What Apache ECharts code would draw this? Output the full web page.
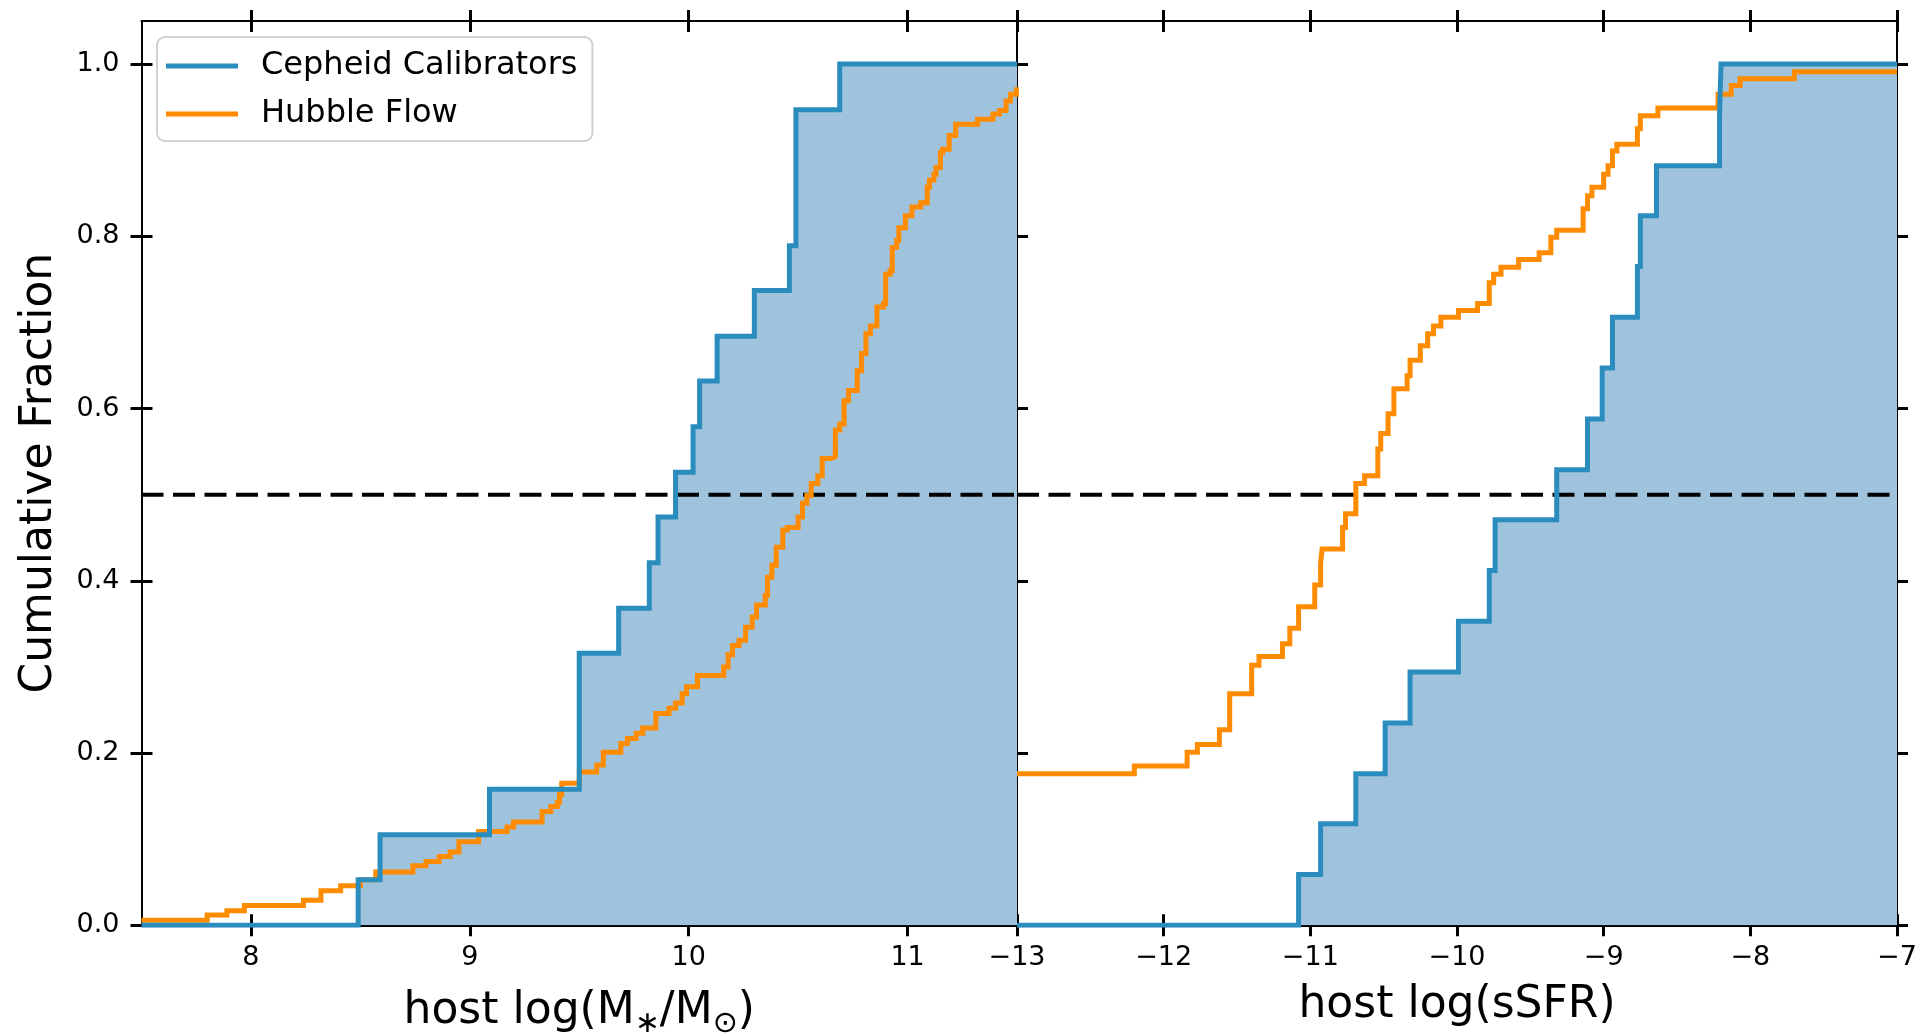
<!DOCTYPE html>
<html>
<head>
<meta charset="utf-8">
<script src="https://cdn.jsdelivr.net/npm/echarts@6/dist/echarts.min.js"></script>
<style>
html,body{margin:0;padding:0;background:#fff;}
#chart{width:1918px;height:1033px;}
</style>
</head>
<body>
<div id="chart"></div>
<script>
// ---------- data ----------
// Left panel: host stellar mass
const massRange = [7.5, 11.5];
const massTicks = [8, 9, 10, 11];
const cephMassX = [7.5, 8.49, 8.59, 9.09, 9.50, 9.68, 9.82, 9.86, 9.94, 10.02, 10.05, 10.13, 10.30, 10.46, 10.49, 10.69, 11.5];
const cephMassY = [0, 0.053, 0.105, 0.158, 0.316, 0.368, 0.421, 0.474, 0.526, 0.579, 0.632, 0.684, 0.737, 0.789, 0.947, 1.0, 1.0];
const hubbleMassX = [7.5, 7.80, 7.89, 7.97, 8.24, 8.32, 8.41, 8.50, 8.57, 8.74, 8.80, 8.86, 8.91, 8.95, 9.04, 9.17, 9.20, 9.33, 9.37, 9.40, 9.41, 9.42, 9.50, 9.58, 9.61, 9.69, 9.72, 9.76, 9.79, 9.85, 9.91, 9.94, 9.97, 9.99, 10.04, 10.16, 10.18, 10.20, 10.23, 10.26, 10.29, 10.31, 10.35, 10.36, 10.38, 10.40, 10.43, 10.45, 10.50, 10.52, 10.54, 10.56, 10.59, 10.61, 10.65, 10.67, 10.69, 10.71, 10.73, 10.77, 10.79, 10.81, 10.83, 10.86, 10.89, 10.90, 10.92, 10.93, 10.95, 10.96, 10.99, 11.02, 11.06, 11.09, 11.10, 11.12, 11.13, 11.15, 11.16, 11.19, 11.22, 11.32, 11.39, 11.42, 11.45, 11.47, 11.497, 11.5];
const hubbleMassY = [0.006, 0.012, 0.017, 0.023, 0.029, 0.040, 0.046, 0.053, 0.062, 0.069, 0.074, 0.080, 0.085, 0.097, 0.109, 0.114, 0.120, 0.132, 0.138, 0.143, 0.152, 0.165, 0.178, 0.186, 0.201, 0.211, 0.217, 0.223, 0.229, 0.246, 0.252, 0.258, 0.269, 0.277, 0.290, 0.300, 0.314, 0.325, 0.331, 0.346, 0.358, 0.372, 0.383, 0.404, 0.418, 0.439, 0.459, 0.462, 0.474, 0.490, 0.499, 0.513, 0.522, 0.542, 0.544, 0.575, 0.582, 0.609, 0.621, 0.644, 0.664, 0.687, 0.696, 0.718, 0.722, 0.756, 0.760, 0.787, 0.795, 0.810, 0.824, 0.834, 0.839, 0.857, 0.865, 0.872, 0.880, 0.897, 0.901, 0.917, 0.930, 0.936, 0.942, 0.946, 0.957, 0.965, 0.973, 0.973];

// Right panel: host specific star-formation rate
const ssfrRange = [-13, -7];
const ssfrTicks = [-13, -12, -11, -10, -9, -8, -7];
const cephSsfrX = [-13, -11.08, -10.93, -10.69, -10.49, -10.32, -9.99, -9.78, -9.74, -9.32, -9.11, -9.01, -8.94, -8.77, -8.75, -8.64, -8.21, -8.20, -7];
const cephSsfrY = [0, 0.059, 0.118, 0.176, 0.235, 0.294, 0.353, 0.412, 0.471, 0.529, 0.588, 0.647, 0.706, 0.765, 0.824, 0.882, 0.941, 1.0, 1.0];
const hubbleSsfrX = [-13, -12.20, -11.84, -11.77, -11.62, -11.55, -11.40, -11.35, -11.19, -11.14, -11.08, -10.97, -10.93, -10.92, -10.78, -10.76, -10.69, -10.63, -10.54, -10.52, -10.47, -10.43, -10.34, -10.32, -10.25, -10.20, -10.16, -10.11, -9.99, -9.86, -9.78, -9.75, -9.70, -9.58, -9.44, -9.36, -9.32, -9.14, -9.11, -9.08, -9.00, -8.97, -8.94, -8.91, -8.77, -8.75, -8.63, -8.22, -8.13, -8.07, -7.70, -7];
const hubbleSsfrY = [0.176, 0.185, 0.201, 0.210, 0.227, 0.269, 0.302, 0.312, 0.327, 0.345, 0.370, 0.395, 0.420, 0.437, 0.462, 0.478, 0.513, 0.522, 0.553, 0.571, 0.594, 0.623, 0.638, 0.656, 0.673, 0.687, 0.696, 0.706, 0.714, 0.722, 0.746, 0.756, 0.764, 0.773, 0.781, 0.799, 0.807, 0.832, 0.847, 0.857, 0.872, 0.882, 0.899, 0.907, 0.925, 0.940, 0.949, 0.965, 0.975, 0.983, 0.991, 0.991];

const fracRange = [0, 1.05];
const fracTicks = [0, 0.2, 0.4, 0.6, 0.8, 1.0];
const medianLevel = 0.5;

const seriesNames = ['Cepheid Calibrators', 'Hubble Flow'];
const xTitles = ['host log(M{s|∗}/M{s|⊙})', 'host log(sSFR)'];
const yTitle = 'Cumulative Fraction';

// ---------- styling ----------
const BLUE = '#2b8cbe';
const FILL = '#a0c3dd';
const ORANGE = '#ff8c00';
const FONT = 'DejaVu Sans';
const TICK_LEN = 11;

function zip(xs, ys) { return xs.map((x, i) => [x, ys[i]]); }
function fmtX(v) { return v < 0 ? '\u2212' + Math.abs(v) : String(v); }

const chart = echarts.init(document.getElementById('chart'), null, {renderer: 'canvas'});

const grids = [
  {left: 141.5, top: 21, width: 875.5, height: 904.3, containLabel: false, outerBoundsMode: 'none'},
  {left: 1017, top: 21, width: 880, height: 904.3, containLabel: false, outerBoundsMode: 'none'}
];
const panels = [
  {range: massRange, ticks: massTicks},
  {range: ssfrRange, ticks: ssfrTicks}
];

const xAxes = [], yAxes = [];
panels.forEach((p, g) => {
  // bottom outward (with labels), bottom inward, top outward, top inward
  [['bottom', false, true], ['bottom', true, false], ['top', false, false], ['top', true, false]].forEach(([pos, inside, main]) => {
    xAxes.push({
      type: 'value', gridIndex: g, position: pos, min: p.range[0], max: p.range[1],
      splitLine: {show: false},
      axisLine: {show: main || (pos === 'top' && !inside), onZero: false, lineStyle: {color: '#000', width: 2}},
      axisTick: {show: true, inside: inside, length: TICK_LEN, customValues: p.ticks, lineStyle: {color: '#000', width: 3}},
      axisLabel: main ? {show: true, customValues: p.ticks, formatter: fmtX, fontFamily: FONT, fontSize: 27, color: '#000', margin: 19} : {show: false},
      name: main ? xTitles[g] : '',
      nameLocation: 'middle', nameGap: 58,
      nameTextStyle: {fontFamily: FONT, fontSize: 44, color: '#000', rich: {s: {fontFamily: FONT, fontSize: 30, color: '#000', padding: [26, 0, 0, 0]}}}
    });
  });
  [['left', false, g === 0], ['left', true, false], ['right', false, false], ['right', true, false]].forEach(([pos, inside, main]) => {
    yAxes.push({
      type: 'value', gridIndex: g, position: pos, min: fracRange[0], max: fracRange[1],
      splitLine: {show: false},
      axisLine: {show: !inside, onZero: false, lineStyle: {color: '#000', width: 2}},
      axisTick: {show: true, inside: inside, length: TICK_LEN, customValues: fracTicks, lineStyle: {color: '#000', width: 3}},
      axisLabel: main ? {show: true, customValues: fracTicks, formatter: v => v.toFixed(1), fontFamily: FONT, fontSize: 27, color: '#000', margin: 22} : {show: false},
      name: main ? yTitle : '',
      nameLocation: 'middle', nameGap: 80,
      nameTextStyle: {fontFamily: FONT, fontSize: 44, color: '#000'}
    });
  });
});

const data = [
  {ceph: zip(cephMassX, cephMassY), hub: zip(hubbleMassX, hubbleMassY), range: massRange},
  {ceph: zip(cephSsfrX, cephSsfrY), hub: zip(hubbleSsfrX, hubbleSsfrY), range: ssfrRange}
];

const series = [];
data.forEach((d, g) => {
  const xi = g * 4, yi = g * 4;
  series.push({
    name: 'fill' + g, type: 'line', step: 'end', xAxisIndex: xi, yAxisIndex: yi,
    data: d.ceph, showSymbol: false, silent: true, z: 1,
    lineStyle: {width: 0, color: FILL}, areaStyle: {color: FILL, opacity: 1}
  });
  series.push({
    name: 'median' + g, type: 'line', xAxisIndex: xi, yAxisIndex: yi,
    data: [[d.range[0], medianLevel], [d.range[1], medianLevel]], showSymbol: false, silent: true, z: 2,
    lineStyle: {width: 4, color: '#000', type: [22, 9.5]}
  });
  series.push({
    name: seriesNames[1], type: 'line', step: 'end', xAxisIndex: xi, yAxisIndex: yi,
    data: d.hub, showSymbol: false, z: 3, color: ORANGE,
    lineStyle: {width: 5, color: ORANGE, join: 'miter', cap: 'butt'}
  });
  series.push({
    name: seriesNames[0], type: 'line', step: 'end', xAxisIndex: xi, yAxisIndex: yi,
    data: d.ceph, showSymbol: false, z: 4, color: BLUE,
    lineStyle: {width: 5, color: BLUE, join: 'miter', cap: 'butt'}
  });
});

chart.setOption({
  backgroundColor: '#fff',
  animation: false,
  grid: grids,
  xAxis: xAxes,
  yAxis: yAxes,
  legend: {
    data: seriesNames, orient: 'vertical', left: 157, top: 37,
    icon: 'rect', itemWidth: 72, itemHeight: 5, itemGap: 16,
    padding: [13, 15, 11, 9],
    backgroundColor: '#fff', borderColor: '#d0d0d0', borderWidth: 2, borderRadius: 8,
    textStyle: {fontFamily: FONT, fontSize: 32, color: '#000', lineHeight: 32, padding: [0, 0, 0, 18]}
  },
  series: series
});
</script>
</body>
</html>
